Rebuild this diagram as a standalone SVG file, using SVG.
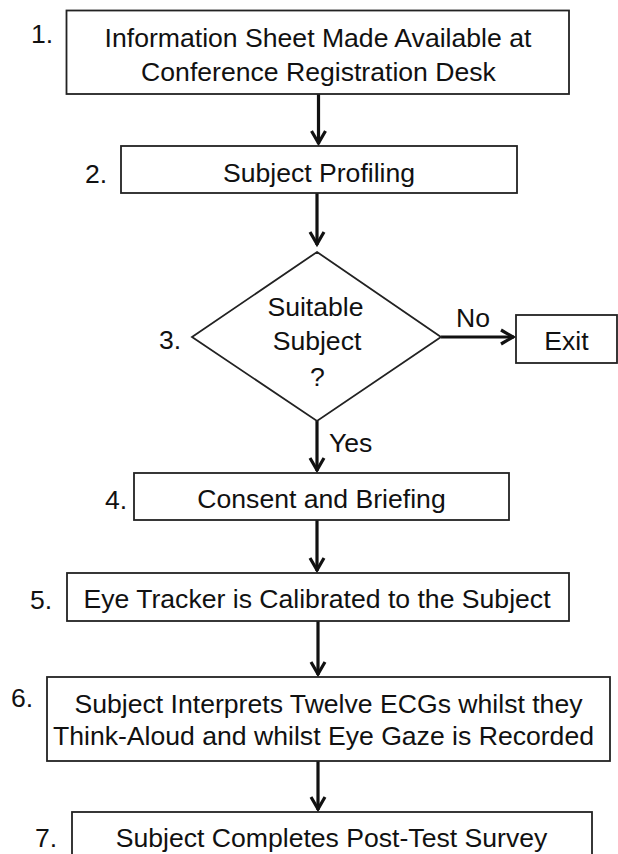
<svg xmlns="http://www.w3.org/2000/svg" width="618" height="854" viewBox="0 0 618 854">
<defs>
<marker id="ah" markerUnits="userSpaceOnUse" markerWidth="20" markerHeight="20" refX="0" refY="0" viewBox="-16 -10 20 20" orient="auto" overflow="visible">
<path d="M-13,-7 L-1,0 L-13,7" fill="none" stroke="#111" stroke-width="3.2" stroke-linejoin="miter"/>
</marker>
</defs>
<style>
.box{fill:#fff;stroke:#222;stroke-width:1.8}
.t{font-family:"Liberation Sans",Arial,sans-serif;font-size:26.6px;fill:#111;text-anchor:middle}
.n{font-family:"Liberation Sans",Arial,sans-serif;font-size:26.6px;fill:#111}
.c{stroke:#111;stroke-width:3.2;fill:none;marker-end:url(#ah)}
</style>
<rect width="618" height="854" fill="#fff"/>
<g id="connectors">
<line class="c" x1="318.5" y1="94" x2="318.5" y2="144"/>
<line class="c" x1="317" y1="193" x2="317" y2="245"/>
<line class="c" x1="441" y1="337" x2="514" y2="337"/>
<line class="c" x1="317" y1="421" x2="317" y2="471"/>
<line class="c" x1="317" y1="520" x2="317" y2="571"/>
<line class="c" x1="318" y1="621" x2="318" y2="675"/>
<line class="c" x1="318" y1="761" x2="318" y2="810"/>
<text class="n" x="456" y="327">No</text>
<text class="n" x="329" y="452">Yes</text>
</g>
<g id="n1">
<rect class="box" x="66.5" y="10.5" width="502.5" height="83.5"/>
<text class="t" x="318" y="47">Information Sheet Made Available at</text>
<text class="t" x="318.5" y="81">Conference Registration Desk</text>
<text class="n" x="31" y="43">1.</text>
</g>
<g id="n2">
<rect class="box" x="121" y="146" width="396" height="47"/>
<text class="t" x="319" y="182">Subject Profiling</text>
<text class="n" x="85" y="183">2.</text>
</g>
<g id="n3">
<polygon class="box" points="317,252 441,337 317,421 192,337" stroke-width="1.6"/>
<text class="t" x="315.5" y="316">Suitable</text>
<text class="t" x="317" y="350">Subject</text>
<text class="t" x="317.5" y="386">?</text>
<text class="n" x="159" y="349">3.</text>
</g>
<g id="exit">
<rect class="box" x="516" y="315" width="101" height="48"/>
<text class="t" x="566.5" y="350">Exit</text>
</g>
<g id="n4">
<rect class="box" x="134" y="473" width="375" height="47"/>
<text class="t" x="321.5" y="508">Consent and Briefing</text>
<text class="n" x="105" y="509">4.</text>
</g>
<g id="n5">
<rect class="box" x="67" y="573" width="502" height="48"/>
<text class="t" x="317" y="608">Eye Tracker is Calibrated to the Subject</text>
<text class="n" x="30" y="609">5.</text>
</g>
<g id="n6">
<rect class="box" x="47" y="677" width="563" height="84"/>
<text class="t" x="328.5" y="713">Subject Interprets Twelve ECGs whilst they</text>
<text class="t" x="323.5" y="745">Think-Aloud and whilst Eye Gaze is Recorded</text>
<text class="n" x="11" y="707">6.</text>
</g>
<g id="n7">
<rect class="box" x="72" y="812" width="520" height="60"/>
<text class="t" x="331.5" y="847">Subject Completes Post-Test Survey</text>
<text class="n" x="35" y="847">7.</text>
</g>
</svg>
